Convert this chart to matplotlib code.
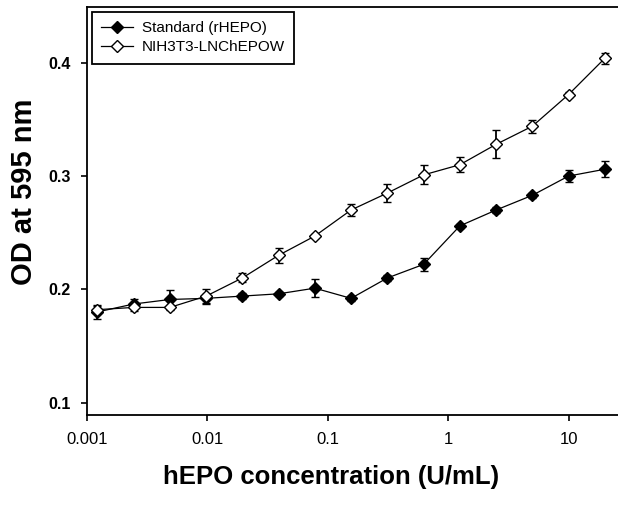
import matplotlib
matplotlib.use("Agg")
import matplotlib.pyplot as plt
from matplotlib.lines import Line2D
import numpy as np

plt.rcParams['font.family'] = ['Liberation Sans', 'DejaVu Sans']

conc = [0.00122, 0.00244, 0.00488, 0.00977, 0.0195, 0.039, 0.078, 0.156,
        0.3125, 0.625, 1.25, 2.5, 5, 10, 20]
std_vals = [0.180, 0.187, 0.191, 0.192, 0.194, 0.196, 0.201, 0.192,
            0.210, 0.222, 0.256, 0.270, 0.283, 0.300, 0.306]
std_err = [0.006, 0.004, 0.008, 0.004, 0.003, 0.002, 0.0077, 0.002,
           0.003, 0.006, 0.002, 0.003, 0.002, 0.005, 0.007]
nih_vals = [0.182, 0.184, 0.184, 0.194, 0.210, 0.230, 0.247, 0.270,
            0.285, 0.301, 0.310, 0.328, 0.344, 0.372, 0.404]
nih_err = [0.003, 0.003, 0.002, 0.0066, 0.004, 0.0066, 0.002, 0.0055,
           0.0077, 0.0084, 0.0068, 0.0124, 0.0056, 0.002, 0.0047]

xticks = [0.001, 0.01, 0.1, 1, 10]
xticklabels = ['0.001', '0.01', '0.1', '1', '10']
yticks = [0.1, 0.2, 0.3, 0.4]
yticklabels = ['0.1', '0.2', '0.3', '0.4']

fig = plt.figure(figsize=(6.18, 5.07), dpi=100)
ax = fig.add_axes([87/618, 1 - 415/507, 1 - 87/618, (415 - 7.3)/507])

ax.errorbar(conc, std_vals, yerr=std_err, fmt='-', color='black', lw=0.9,
            marker='D', ms=6, mfc='black', mec='black', mew=1,
            ecolor='black', elinewidth=1.3, capsize=3, capthick=1.3,
            zorder=3)
ax.errorbar(conc, nih_vals, yerr=nih_err, fmt='-', color='black', lw=0.9,
            marker='D', ms=6, mfc='white', mec='black', mew=1,
            ecolor='black', elinewidth=1.3, capsize=3, capthick=1.3,
            zorder=4)

ax.set_xscale('log')
ax.set_xlim(0.001, 10 ** (-3 + (618 - 87) / 120.4))
ax.set_ylim(0.089, 0.449)
ax.set_xticks(xticks)
ax.set_xticklabels(xticklabels, fontsize=12)
ax.xaxis.set_minor_locator(matplotlib.ticker.NullLocator())
ax.set_yticks(yticks)
ax.set_yticklabels(yticklabels, fontsize=11.5, fontweight='bold')
ax.tick_params(axis='x', direction='out', length=4, width=1.2, pad=8)
ax.tick_params(axis='y', direction='out', length=4.5, width=1.2, pad=7)

for s in ['left', 'bottom', 'top']:
    ax.spines[s].set_linewidth(1.3)
ax.spines['right'].set_visible(False)

ax.set_xlabel('hEPO concentration (U/mL)', fontsize=18.5, fontweight='bold')
ax.xaxis.set_label_coords((331 - 87) / 531, -(477 - 415) / 408, transform=ax.transAxes)
ax.xaxis.label.set_va('center')
ax.set_ylabel('OD at 595 nm', fontsize=21, fontweight='bold')
ax.yaxis.set_label_coords(-(87 - 24) / 531, (415 - 192) / 408, transform=ax.transAxes)
ax.yaxis.label.set_va('center')

handles = [
    Line2D([], [], color='black', lw=0.9, marker='D', ms=6, mfc='black', mec='black'),
    Line2D([], [], color='black', lw=0.9, marker='D', ms=6, mfc='white', mec='black'),
]
leg = ax.legend(handles, ['Standard (rHEPO)', 'NIH3T3-LNChEPOW'], loc='upper left',
                fontsize=11, frameon=True, fancybox=False,
                edgecolor='black', borderaxespad=0.3, handlelength=2.1,
                borderpad=0.6, labelspacing=0.35, handletextpad=0.6)
leg.get_frame().set_linewidth(1.3)
leg.get_frame().set_alpha(1)

fig.savefig('out.png', dpi=100)
